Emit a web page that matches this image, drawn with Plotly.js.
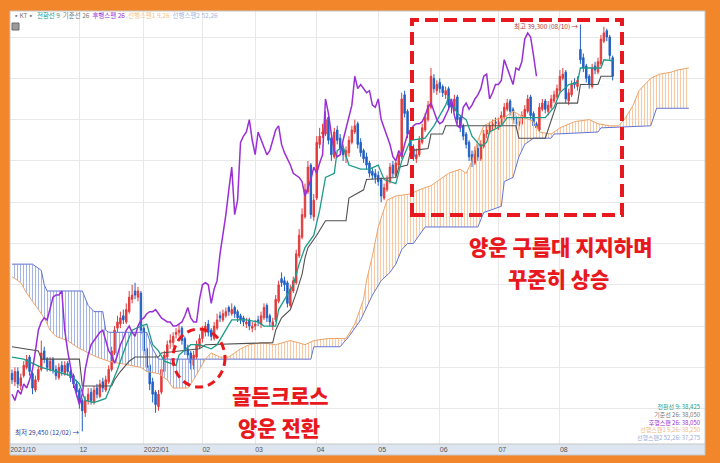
<!DOCTYPE html>
<html><head><meta charset="utf-8">
<script src="https://cdn.plot.ly/plotly-3.0.1.min.js"></script>
<style>html,body{margin:0;padding:0;overflow:hidden;background:#f2862b;}#chart{width:720px;height:463px;}</style>
</head><body><div id="chart"></div>
<script>
// ---- Daily candles (KT, trading-day index 0 = late Oct 2021) ----
const openP = [30850,30650,30900,30550,30800,31000,31250,30850,30450,30700,
30950,31400,31200,30950,31200,30950,30750,31050,30850,31100,
30900,30800,30600,30450,30200,29900,30200,30400,30150,30500,
30300,30650,30450,30650,30950,31350,31950,32050,32250,32100,
32350,32650,32850,32700,32800,31950,31450,31050,30650,30400,
30050,30400,30900,31250,31600,31600,31800,31850,31950,31700,
31450,31350,31050,31250,31500,31700,31850,32050,31900,31700,
31950,32250,32150,32250,32450,32300,32450,32350,32250,32200,
32050,32150,31950,32000,32150,32050,32200,32500,32250,32000,
32150,32600,33150,33100,33050,32500,32850,33050,33700,34150,
34650,35250,35900,34650,35100,36400,36650,36650,37050,36550,
36100,36750,36550,36300,36100,36200,36450,36700,36900,36450,
36250,36100,35950,35750,35700,35650,35550,35100,35300,35500,
35900,35650,35900,36100,37600,37200,36700,36300,36050,36150,
36450,36750,37000,37300,38000,37700,37900,37800,37600,37750,
37400,37250,37550,37050,36850,36650,36450,36150,35950,36300,
36050,36350,36650,36700,36850,36950,36850,36900,37050,37250,
37450,37250,37050,36850,36900,37050,37200,37550,37150,36900,
36750,37250,37450,37200,37300,37450,37550,37700,38000,38150,
37450,37600,37900,37800,38700,38500,38300,38050,37800,38300,
38150,38350,38900,39150,39000,38500];
const highP = [30950,31000,31000,30850,31150,31300,31300,30900,30800,31050,
31650,31500,31250,31250,31250,31050,31100,31150,31150,31150,
31000,30850,30700,30500,30250,30300,30500,30500,30550,30600,
30700,30750,30800,31050,31500,32000,32250,32350,32400,32550,
32850,33000,33050,32950,32850,32000,31500,31100,30750,30450,
30450,31050,31400,31650,31800,31850,31950,32050,32000,31750,
31550,31400,31400,31650,31800,32000,32100,32150,31950,32100,
32300,32350,32400,32450,32500,32550,32500,32400,32300,32250,
32200,32200,32100,32150,32250,32350,32550,32550,32300,32200,
32750,33100,33300,33200,33100,33000,33200,33850,34350,34850,
35450,36000,35950,35200,36600,36800,36900,37200,37150,36600,
36800,36850,36650,36400,36350,36600,36850,37000,36950,36550,
36300,36200,36000,35850,35800,35750,35600,35450,35650,35950,
36000,36050,36250,37650,37700,37250,36750,36400,36300,36600,
36900,37150,37450,38250,38100,37950,38000,37850,37800,37800,
37500,37600,37600,37100,36900,36700,36500,36250,36350,36400,
36500,36750,36850,36950,37000,37050,37050,37200,37400,37500,
37500,37300,37100,37050,37200,37350,37600,37600,37200,36950,
37400,37500,37500,37450,37600,37700,37850,38200,38250,38200,
37750,37950,38000,38050,39300,38600,38350,38100,38350,38400,
38500,39050,39250,39200,39050,38550];
const lowP = [30600,30550,30500,30450,30750,30950,30800,30350,30400,30650,
30900,31100,30900,30900,30850,30700,30700,30800,30800,30800,
30650,30500,30300,30000,29450,29800,30100,30100,30100,30250,
30250,30400,30400,30600,30900,31300,31850,31950,32050,32050,
32300,32550,32650,32600,31800,31300,30900,30450,30150,29900,
29950,30350,30850,31200,31450,31500,31700,31750,31550,31300,
31200,30950,30950,31200,31450,31600,31750,31750,31650,31650,
31900,32100,32100,32200,32250,32250,32200,32100,32050,32000,
31950,31900,31850,31900,32000,31950,32150,32100,32000,31900,
32100,32550,32950,32850,32450,32450,32800,33000,33650,34100,
34600,35200,34600,34550,35050,36300,36550,36600,36400,36000,
36050,36400,36200,36000,35950,36100,36400,36650,36300,36100,
35950,35800,35600,35550,35450,35400,35000,35050,35250,35450,
35600,35600,35850,36050,37050,36550,36150,36000,35950,36100,
36400,36700,36950,37250,37650,37600,37650,37550,37500,37250,
37150,37200,36900,36700,36500,36300,36000,35850,35900,36000,
36000,36300,36550,36650,36750,36800,36750,36850,37000,37200,
37100,36900,36800,36750,36850,37000,37150,37000,36750,36700,
36700,37200,37150,37100,37250,37400,37500,37650,37950,37400,
37350,37550,37750,37700,38350,38150,37900,37750,37750,38100,
38100,38300,38850,38900,38450,37950];
const closeP = [30700,30900,30600,30750,31050,31200,30900,30500,30700,30950,
31350,31200,31000,31150,30950,30800,31000,30900,31050,30900,
30750,30600,30400,30150,29950,30200,30350,30200,30450,30350,
30600,30500,30700,30950,31400,31900,32100,32200,32150,32400,
32700,32750,32750,32850,31900,31400,31000,30600,30350,30100,
30350,30950,31300,31550,31650,31750,31850,31900,31650,31400,
31300,31100,31300,31550,31700,31900,32000,31850,31750,32000,
32150,32200,32300,32350,32350,32400,32300,32200,32150,32100,
32100,32000,32000,32050,32100,32250,32450,32200,32100,32100,
32650,33000,33050,33000,32550,32900,33100,33750,34200,34700,
35300,35850,34700,35050,36450,36600,36700,37000,36500,36150,
36700,36500,36300,36150,36250,36500,36750,36850,36400,36200,
36050,35900,35700,35650,35600,35500,35150,35350,35550,35850,
35700,35950,36150,37500,37150,36650,36250,36100,36150,36500,
36800,37050,37350,38050,37750,37850,37750,37650,37700,37350,
37300,37500,37000,36800,36600,36400,36100,36000,36250,36100,
36400,36650,36750,36850,36900,36900,36950,37100,37300,37400,
37200,37000,36900,36950,37100,37250,37500,37100,36850,36800,
37300,37400,37250,37350,37500,37600,37750,38050,38100,37500,
37650,37850,37850,37950,38450,38250,38000,37850,38250,38200,
38400,38950,39100,39000,38550,38050];

// ---- Month ticks ----
const monthTickIdx  = [-0.6, 23, 45, 65, 83, 104, 125, 146, 166, 187];
const monthTickText = ['2021/10','12','2022/01','02','03','04','05','06','07','08'];

// ---- Ichimoku lines (index, price) ----
const convX = [0,4,10,15,20,23,25,28,32,34,36,39,41,44,46,48,50,52,56,57,61,64,68,70,73,75,80,84,86,90,91,94,96,98,100,103,105,107,110,111,113,115,119,122,125,127,131,133,136,141,144,148,149,152,155,157,160,162,163,167,169,178,182,185,187,190,193,194,201,202,205];
const convY = [31250,31200,31000,30900,30800,30600,30200,30150,30250,30600,30950,31550,31900,32000,32050,31550,31400,31150,31050,31300,31550,31550,31450,31550,31900,32150,32150,32100,32000,32000,32400,32750,33000,33500,33900,34200,34800,35600,35700,36250,36350,35900,35800,35800,35900,35550,35450,36000,36500,36550,36850,37350,37550,37150,37000,36600,36350,36450,36700,36850,37050,37050,37050,37300,37650,37850,37900,38250,38250,38450,38425];

const baseX = [0,9,10,23,24,34,35,37,40,42,50,51,64,66,89,90,92,95,97,99,100,101,104,107,114,115,120,121,131,132,135,136,142,143,147,148,172,173,182,184,186,193,194,200,201,205];
const baseY = [31500,31400,31200,31200,30550,30550,30700,30900,31150,31250,31250,31350,31450,31550,31600,31900,32200,32400,32800,33250,33650,33900,34200,34550,34550,35100,35300,35550,35600,35850,35900,36250,36300,36650,36650,36850,36850,36550,36550,37000,37400,37400,37850,37850,38050,38050];

const span1X = [0,3,5,7,11,13,15,19,22,26,29,33,37,41,44,46,50,53,55,60,62,64,66,68,71,74,78,81,85,90,95,100,103,108,114,117,120,121,123,125,128,131,136,139,143,146,149,153,155,157,159,161,165,168,171,175,178,180,184,187,192,197,200,204,207,209,212,214,218,221,225,227,231];
const span1Y = [33200,33050,32800,32600,32200,31900,31750,31650,31500,31350,31250,31150,31100,31050,31000,30900,30850,30700,30500,30500,30700,30950,31200,31350,31250,31250,31450,31550,31600,31550,31650,31550,31650,31700,31700,32050,32650,33100,33700,34400,35050,35150,35200,35300,35400,35550,35700,35800,35700,36000,36500,36850,37000,37050,37200,37050,36950,36700,36650,36800,36950,37000,36900,36850,36850,37000,37350,37700,38000,38100,38150,38200,38250];

const span2X = [0,7,10,11,12,24,26,28,31,32,33,46,48,50,66,102,103,112,115,119,123,126,129,131,133,135,137,139,141,159,161,167,168,171,173,175,178,184,185,200,201,218,220,231];
const span2Y = [33500,33500,33350,33000,32850,32850,32500,32350,32350,31900,31850,31850,31450,31200,31200,31200,31500,31500,31750,32150,32750,33100,33300,33500,33850,34000,34000,34200,34400,34400,34750,34900,35500,35600,36100,36400,36550,36550,36650,36700,36800,36850,37275,37275];

const LAG = 26;        // lagging span shift (days)
const CLOUD_CROSS = 66; // index where leading spans cross

// ---- build ----
const N = closeP.length;
const days = closeP.map((_, i) => i);
function seg(xs, ys, a, b) {
  const X = [], Y = [];
  xs.forEach((x, k) => { if (x >= a && x <= b) { X.push(x); Y.push(ys[k]); } });
  return {X, Y};
}
const lastIdx = span1X[span1X.length - 1];
const a2 = seg(span2X, span2Y, 0, CLOUD_CROSS), a1 = seg(span1X, span1Y, 0, CLOUD_CROSS);
const b2 = seg(span2X, span2Y, CLOUD_CROSS, lastIdx), b1 = seg(span1X, span1Y, CLOUD_CROSS, lastIdx);
function pat(c) { return {shape:'|', fgcolor:c, bgcolor:'rgba(255,255,255,0)', size:3, solidity:0.36, fillmode:'replace'}; }

const traces = [
  {type:'scatter', x:a2.X, y:a2.Y, mode:'lines', line:{width:0}, hoverinfo:'skip'},
  {type:'scatter', x:a1.X, y:a1.Y, mode:'lines', line:{width:0}, fill:'tonexty', fillcolor:'rgba(0,0,0,0)', fillpattern:pat('#a6b4e6'), hoverinfo:'skip'},
  {type:'scatter', x:b2.X, y:b2.Y, mode:'lines', line:{width:0}, hoverinfo:'skip'},
  {type:'scatter', x:b1.X, y:b1.Y, mode:'lines', line:{width:0}, fill:'tonexty', fillcolor:'rgba(0,0,0,0)', fillpattern:pat('#f7caa6'), hoverinfo:'skip'},
  {type:'scatter', x:span2X, y:span2Y, mode:'lines', line:{color:'#6374d4', width:1}, hoverinfo:'skip'},
  {type:'scatter', x:span1X, y:span1Y, mode:'lines', line:{color:'#eea46a', width:1}, hoverinfo:'skip'},
  {type:'candlestick', x:days, open:openP, high:highP, low:lowP, close:closeP,
   increasing:{line:{color:'#e23b3b', width:1}, fillcolor:'#e23b3b'},
   decreasing:{line:{color:'#2160c4', width:1}, fillcolor:'#2160c4'},
   whiskerwidth:0, hoverinfo:'skip'},
  {type:'scatter', x:baseX, y:baseY, mode:'lines', line:{color:'#505050', width:1.1}, hoverinfo:'skip'},
  {type:'scatter', x:convX, y:convY, mode:'lines', line:{color:'#1b9c88', width:1.3}, hoverinfo:'skip'},
  {type:'scatter', x:days.slice(0, N - LAG), y:closeP.slice(LAG), mode:'lines', line:{color:'#9a2fd6', width:1.5}, hoverinfo:'skip'}
];

// pixel -> paper helpers for overlay decorations
const PL = 10, PT = 11, PW = 695, PH = 433;
const px = x => (x - PL) / PW;
const py = y => 1 - (y - PT) / PH;
const KR = 'Noto Sans CJK KR, Noto Sans, sans-serif';
const KRB = 'Noto Sans CJK KR Black, Noto Sans CJK KR, Noto Sans, sans-serif';
const RED = '#e8191e';

const shapes = [
  {type:'rect', xref:'paper', yref:'paper', x0:0, x1:1, y0:py(455), y1:0, fillcolor:'#dde6f0', line:{width:0}, layer:'below'},
  {type:'rect', xref:'paper', yref:'paper', x0:0, x1:1, y0:py(455), y1:1, line:{color:'#c6c6c6', width:1}, fillcolor:'rgba(0,0,0,0)'},
  {type:'line', xref:'paper', yref:'paper', x0:0, x1:1, y0:0, y1:0, line:{color:'#c6c6c6', width:1}},
  {type:'rect', xref:'paper', yref:'paper', x0:px(12), x1:px(19), y0:py(30), y1:py(23), fillcolor:'#9a9a9a', line:{color:'#6a6a6a', width:1}},
  {type:'rect', xref:'paper', yref:'paper', x0:px(412), x1:px(622), y0:py(215), y1:py(20), line:{color:RED, width:4, dash:'13px,6px'}, fillcolor:'rgba(0,0,0,0)'},
  {type:'circle', xref:'paper', yref:'paper', x0:px(173), x1:px(225), y0:py(387), y1:py(329), line:{color:RED, width:3, dash:'8px,5px'}, fillcolor:'rgba(0,0,0,0)'}
];

function small(text, x, y, color, anchor) {
  return {xref:'paper', yref:'paper', x:px(x), y:py(y), text:text, showarrow:false, xanchor:anchor||'left', yanchor:'middle',
          font:{family:KR, size:6.5, color:color}};
}
function big(text, x, y) {
  return {xref:'paper', yref:'paper', x:px(x), y:py(y), text:text, showarrow:false, xanchor:'center', yanchor:'middle',
          borderpad:0, font:{family:KRB, size:21, color:RED, weight:900}};
}

const annotations = [
  small('<span style="color:#777">▪KT▪</span>  <span style="color:#1b9c88">전환선 9</span>  <span style="color:#777">기준선 26</span>  <span style="color:#9a2fd6">후행스팬 26</span>  <span style="color:#f2c393">선행스팬1 9,26</span>  <span style="color:#a9b6e0">선행스팬2 52,26</span>', 11, 15, '#777'),
  small('최저 29,450 (12/02) →', 82, 432, '#2d3c96', 'right'),
  small('최고 39,300 (08/10) →', 581, 26, '#b23a3a', 'right'),
  {xref:'paper', yref:'paper', x:px(703), y:py(421.5), showarrow:false, xanchor:'right', yanchor:'middle', align:'right',
   font:{family:KR, size:6, color:'#777'},
   text:'<span style="color:#1b9c88">전환선 9: 38,425</span><br><span style="color:#777777">기준선 26: 38,050</span><br><span style="color:#9a2fd6">후행스팬 26: 38,050</span><br><span style="color:#efb985">선행스팬1 9,26: 38,250</span><br><span style="color:#9aa9da">선행스팬2 52,26: 37,275</span>'},
  big('양운 구름대 지지하며', 561, 245.5),
  big('꾸준히 상승', 558, 277.5),
  big('골든크로스', 280, 395),
  big('양운 전환', 279, 427)
];

const layout = {
  width:720, height:463,
  margin:{l:PL, r:720 - PL - PW, t:PT, b:463 - PT - PH, pad:0},
  paper_bgcolor:'#f2862b', plot_bgcolor:'#ffffff',
  showlegend:false, hovermode:false,
  xaxis:{range:[-0.68, 236.52], tickmode:'array', tickvals:monthTickIdx, ticktext:monthTickText,
         ticklabelposition:'outside right', ticks:'', showgrid:true, gridcolor:'#e8e8e8', gridwidth:1,
         zeroline:false, showline:false, rangeslider:{visible:false}, fixedrange:true,
         tickfont:{size:7, color:'#555', family:'Liberation Sans, Arial, sans-serif'}},
  yaxis:{range:[29145, 39630], tick0:0, dtick:1000, showticklabels:false, ticks:'', gridcolor:'#e8e8e8',
         zeroline:false, showline:false, fixedrange:true},
  shapes:shapes, annotations:annotations
};

Plotly.newPlot('chart', traces, layout, {staticPlot:true, displayModeBar:false});
</script>
</body></html>
